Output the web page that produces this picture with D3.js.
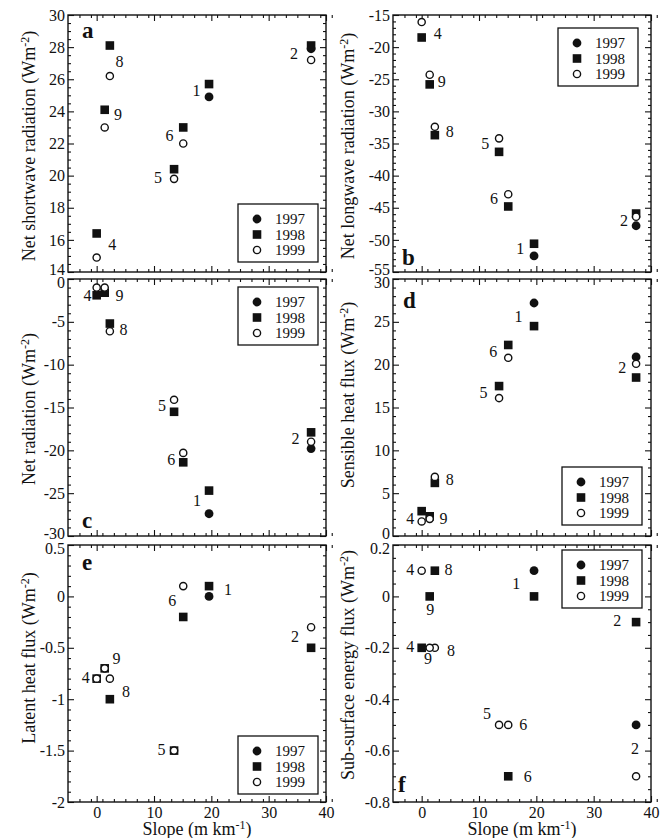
<!DOCTYPE html>
<html>
<head>
<meta charset="utf-8">
<script src="https://cdn.jsdelivr.net/npm/d3@7"></script>
<style>
    html, body { margin: 0; padding: 0; background: #fff; }
    svg { display: block; }
</style>
</head>
<body>
<svg id="chart" width="668" height="838"></svg>
<script>
// Sites and their slope (m km-1), same for all panels
const sites = ["1", "2", "4", "5", "6", "8", "9"];
const slope = [19.6, 37.4, 0.0, 13.5, 15.1, 2.3, 1.4];
const years = ["1997", "1998", "1999"];
const xTicks = [0, 10, 20, 30, 40];

// a: net shortwave radiation
const swTicks = [14, 16, 18, 20, 22, 24, 26, 28, 30];
const sw1997 = [24.9, 27.9, null, null, null, null, null];
const sw1998 = [25.7, 28.1, 16.4, 20.4, 23.0, 28.1, 24.1];
const sw1999 = [null, 27.2, 14.9, 19.8, 22.0, 26.2, 23.0];
const swLabels = [["1", 17.4, 25.3], ["2", 34.4, 27.6], ["4", 2.7, 15.7], ["5", 10.7, 19.9],
    ["6", 12.7, 22.5], ["8", 4.0, 27.1], ["9", 3.7, 23.8]];

// b: net longwave radiation
const lwTicks = [-55, -50, -45, -40, -35, -30, -25, -20, -15];
const lw1997 = [-52.5, -47.8, null, null, null, null, null];
const lw1998 = [-50.6, -45.9, -18.5, -36.3, -44.8, -33.7, -25.8];
const lw1999 = [null, -46.4, -16.1, -34.2, -42.9, -32.4, -24.3];
const lwLabels = [["1", 17.2, -51.3], ["2", 35.3, -47.0], ["4", 2.8, -17.9], ["5", 11.1, -35.0],
    ["6", 12.6, -43.6], ["8", 4.9, -33.1], ["9", 3.5, -25.3]];

// c: net radiation
const nrTicks = [-30, -25, -20, -15, -10, -5, 0];
const nr1997 = [-27.4, -19.8, null, null, null, null, null];
const nr1998 = [-24.7, -17.9, -1.9, -15.5, -21.4, -5.2, -1.6];
const nr1999 = [null, -19.0, -1.0, -14.1, -20.3, -6.1, -1.0];
const nrLabels = [["1", 17.5, -25.9], ["2", 34.7, -18.6], ["4", -1.6, -1.9], ["5", 11.4, -14.8],
    ["6", 13.0, -21.1], ["8", 4.7, -5.9], ["9", 4.0, -1.9]];

// d: sensible heat flux
const shTicks = [0, 5, 10, 15, 20, 25, 30];
const sh1997 = [27.2, 20.9, null, null, null, null, null];
const sh1998 = [24.5, 18.5, 2.9, 17.5, 22.3, 6.2, 2.3];
const sh1999 = [null, 20.1, 1.7, 16.1, 20.8, 6.9, 2.0];
const shLabels = [["1", 16.9, 25.6], ["2", 35.0, 19.7], ["4", -2.0, 2.1], ["5", 10.8, 16.8],
    ["6", 12.5, 21.5], ["8", 4.9, 6.6], ["9", 3.8, 2.1]];

// e: latent heat flux
const lhTicks = [-2, -1.5, -1, -0.5, 0, 0.5];
const lh1997 = [0.0, null, null, null, null, null, null];
const lh1998 = [0.1, -0.5, -0.8, -1.5, -0.2, -1.0, -0.7];
const lh1999 = [null, -0.3, -0.8, -1.5, 0.1, -0.8, -0.7];
const lhLabels = [["1", 22.9, 0.07], ["2", 34.6, -0.39], ["4", -1.9, -0.79], ["5", 11.3, -1.49],
    ["6", 13.2, -0.04], ["8", 5.1, -0.92], ["9", 3.45, -0.6]];

// f: sub-surface energy flux
const ssTicks = [-0.8, -0.6, -0.4, -0.2, 0, 0.2];
const ss1997 = [0.1, -0.5, null, null, null, null, null];
const ss1998 = [0.0, -0.1, -0.2, null, -0.7, 0.1, 0.0];
const ss1999 = [null, -0.7, 0.1, -0.5, -0.5, -0.2, -0.2];
const ssLabels = [["1", 16.5, 0.05], ["2", 34.1, -0.095], ["2", 37.2, -0.59], ["4", -2.0, 0.106],
    ["4", -2.0, -0.194], ["5", 11.4, -0.455], ["6", 17.7, -0.498], ["6", 18.5, -0.70],
    ["8", 4.7, 0.106], ["8", 5.1, -0.21], ["9", 1.5, -0.05], ["9", 1.1, -0.24]];

const INK = "#111";
const FONT = "'Liberation Serif', 'Times New Roman', serif";
const colX = [68, 393];
const rowY = [15, 279, 545];
const W = 258;
const H = 257;

const panels = [
    { letter: "a", title: "Net shortwave radiation (Wm", col: 0, row: 0, domain: [14, 30], ticks: swTicks,
      minor: 0.5, series: [sw1997, sw1998, sw1999], labels: swLabels, legend: [170, 189], letterAt: [14, 23], titleY: 146 },
    { letter: "b", title: "Net longwave radiation (Wm", col: 1, row: 0, domain: [-55, -15], ticks: lwTicks,
      minor: 1, series: [lw1997, lw1998, lw1999], labels: lwLabels, legend: [165, 13], letterAt: [9, 250], titleY: 146 },
    { letter: "c", title: "Net radiation (Wm", col: 0, row: 1, domain: [-30, 0], ticks: nrTicks,
      minor: 1, series: [nr1997, nr1998, nr1999], labels: nrLabels, legend: [170, 8], letterAt: [14, 249], titleY: 409 },
    { letter: "d", title: "Sensible heat flux (Wm", col: 1, row: 1, domain: [0, 30], ticks: shTicks,
      minor: 1, series: [sh1997, sh1998, sh1999], labels: shLabels, legend: [169, 188], letterAt: [10, 29], titleY: 395 },
    { letter: "e", title: "Latent heat flux (Wm", col: 0, row: 2, domain: [-2, 0.5], ticks: lhTicks,
      minor: 0.1, series: [lh1997, lh1998, lh1999], labels: lhLabels, legend: [170, 191], letterAt: [14, 25], titleY: 658 },
    { letter: "f", title: "Sub-surface energy flux (Wm", col: 1, row: 2, domain: [-0.8, 0.2], ticks: ssTicks,
      minor: 0.05, series: [ss1997, ss1998, ss1999], labels: ssLabels, legend: [169, 5], letterAt: [5, 247], titleY: 665 }
];

const svg = d3.select("#chart");
const fmt = d => String(+d.toFixed(2));

panels.forEach(drawPanel);

function minorTicks(domain, step, majors) {
    const n = Math.round((domain[1] - domain[0]) / step);
    return d3.range(n + 1)
        .map(i => domain[0] + i * step)
        .filter(v => !majors.some(m => Math.abs(m - v) < step / 10));
}

function styleAxis(g) {
    g.select(".domain").remove();
    g.attr("font-family", FONT).attr("font-size", 16).style("color", INK);
    g.selectAll(".tick line").attr("stroke-width", 1.1);
}

function drawPanel(p) {
    const px = colX[p.col];
    const py = rowY[p.row];
    const g = svg.append("g").attr("transform", `translate(${px},${py})`);

    const x = d3.scaleLinear().domain([-5, 40]).range([0, W]);
    const y = d3.scaleLinear().domain(p.domain).range([H, 0]);

    const xMinor = minorTicks([-5, 40], 2, xTicks).filter(v => v > -5);
    const yMinor = minorTicks(p.domain, p.minor, p.ticks);

    // left: labelled majors + minors
    g.append("g")
        .call(d3.axisLeft(y).tickValues(p.ticks).tickSize(-6).tickSizeOuter(0).tickPadding(3).tickFormat(fmt))
        .call(styleAxis)
        .call(a => a.selectAll(".tick text")
            // pull the end labels apart where two panels meet
            .attr("transform", d => {
                if (d === p.domain[0] && p.row < 2) return "translate(0,-3)";
                if (d === p.domain[1] && p.row > 0) return "translate(0,3)";
                return null;
            }));
    g.append("g")
        .call(d3.axisLeft(y).tickValues(yMinor).tickSize(-3).tickSizeOuter(0).tickFormat(""))
        .call(styleAxis);

    // right mirror
    const right = g.append("g").attr("transform", `translate(${W},0)`);
    right.append("g")
        .call(d3.axisRight(y).tickValues(p.ticks).tickSize(-6).tickSizeOuter(0).tickFormat(""))
        .call(styleAxis);
    right.append("g")
        .call(d3.axisRight(y).tickValues(yMinor).tickSize(-3).tickSizeOuter(0).tickFormat(""))
        .call(styleAxis);

    // top mirror
    g.append("g")
        .call(d3.axisTop(x).tickValues(xTicks).tickSize(-6).tickSizeOuter(0).tickFormat(""))
        .call(styleAxis);
    g.append("g")
        .call(d3.axisTop(x).tickValues(xMinor).tickSize(-3).tickSizeOuter(0).tickFormat(""))
        .call(styleAxis);

    // bottom, labels only on the last row
    const bottom = g.append("g").attr("transform", `translate(0,${H})`);
    bottom.append("g")
        .call(d3.axisBottom(x).tickValues(xTicks).tickSize(-6).tickSizeOuter(0).tickPadding(5)
            .tickFormat(p.row === 2 ? fmt : ""))
        .call(styleAxis);
    bottom.append("g")
        .call(d3.axisBottom(x).tickValues(xMinor).tickSize(-3).tickSizeOuter(0).tickFormat(""))
        .call(styleAxis);

    // frame
    g.append("rect")
        .attr("width", W)
        .attr("height", H)
        .attr("fill", "none")
        .attr("stroke", INK)
        .attr("stroke-width", 1.4);

    // data: 1997 filled circles, 1998 filled squares, 1999 open circles
    p.series.forEach((vals, k) => {
        const pts = vals
            .map((v, i) => ({ x: slope[i], y: v, site: sites[i] }))
            .filter(d => d.y !== null);
        drawMarks(g, pts.map(d => [x(d.x), y(d.y)]), k);
    });

    // site labels
    g.selectAll("text.site")
        .data(p.labels)
        .join("text")
        .attr("class", "site")
        .attr("x", d => x(d[1]))
        .attr("y", d => y(d[2]))
        .attr("dy", "0.35em")
        .attr("text-anchor", "middle")
        .attr("font-family", FONT)
        .attr("font-size", 16)
        .attr("fill", INK)
        .text(d => d[0]);

    // panel letter
    g.append("text")
        .attr("x", p.letterAt[0])
        .attr("y", p.letterAt[1])
        .attr("font-family", FONT)
        .attr("font-size", 23)
        .attr("font-weight", 700)
        .attr("fill", INK)
        .text(p.letter);

    // legend
    const lg = g.append("g").attr("transform", `translate(${p.legend[0]},${p.legend[1]})`);
    lg.append("rect")
        .attr("width", 80)
        .attr("height", 58)
        .attr("fill", "#fff")
        .attr("stroke", INK)
        .attr("stroke-width", 1.3);
    years.forEach((yr, k) => {
        const cy = 15 + k * 15.5;
        drawMarks(lg, [[19, cy]], k);
        lg.append("text")
            .attr("x", 37)
            .attr("y", cy)
            .attr("dy", "0.35em")
            .attr("font-family", FONT)
            .attr("font-size", 15)
            .attr("fill", INK)
            .text(yr);
    });

    // y title
    const tx = p.col === 0 ? 35 : 354;
    const title = svg.append("text")
        .attr("transform", `translate(${tx},${p.titleY}) rotate(-90)`)
        .attr("text-anchor", "middle")
        .attr("font-family", FONT)
        .attr("font-size", 18)
        .attr("fill", INK);
    title.append("tspan").text(p.title);
    title.append("tspan").attr("dy", -6).attr("font-size", 12).text("-2");
    title.append("tspan").attr("dy", 6).text(")");

    // x title
    if (p.row === 2) {
        const xt = svg.append("text")
            .attr("x", px + W / 2)
            .attr("y", 835)
            .attr("text-anchor", "middle")
            .attr("font-family", FONT)
            .attr("font-size", 18)
            .attr("fill", INK);
        xt.append("tspan").text("Slope (m km");
        xt.append("tspan").attr("dy", -6).attr("font-size", 12).text("-1");
        xt.append("tspan").attr("dy", 6).text(")");
    }
}

function drawMarks(g, pts, k) {
    if (k === 0) {
        g.selectAll(null).data(pts).join("circle")
            .attr("cx", d => d[0]).attr("cy", d => d[1])
            .attr("r", 4.4)
            .attr("fill", INK);
    } else if (k === 1) {
        g.selectAll(null).data(pts).join("rect")
            .attr("x", d => d[0] - 4.3).attr("y", d => d[1] - 4.3)
            .attr("width", 8.6).attr("height", 8.6)
            .attr("fill", INK);
    } else {
        g.selectAll(null).data(pts).join("circle")
            .attr("cx", d => d[0]).attr("cy", d => d[1])
            .attr("r", 3.6)
            .attr("fill", "#fff")
            .attr("stroke", INK)
            .attr("stroke-width", 1.4);
    }
}
</script>
</body>
</html>
